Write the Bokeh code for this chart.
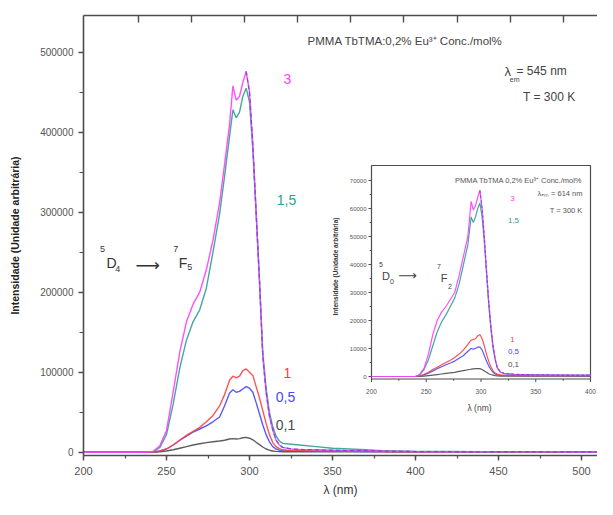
import math
from bokeh.plotting import figure
from bokeh.models import Range1d, LinearAxis, SingleIntervalTicker, FixedTicker, BasicTickFormatter
from bokeh.core.properties import value
from bokeh.embed import file_html
from bokeh.resources import INLINE

# ---------------- main spectra (lambda in nm) ----------------
WL = [200, 230, 238, 242, 246, 250, 254, 258, 262, 266, 270, 274, 278, 282, 285, 288, 290, 292, 294, 296,
      298, 300, 302, 304, 306, 308, 310, 312, 314, 316, 318, 320, 325, 330, 340, 350, 360, 370, 380, 390,
      400, 420, 440, 460, 480, 500, 515]
S_3 = [0, 0, 0, 1000, 8000, 27000, 75000, 125000, 163000, 185000, 200000, 228000, 265000, 312000, 360000,
       410000, 458000, 440000, 445000, 462000, 476000, 450000, 385000, 300000, 215000, 120000, 75000, 45000,
       28000, 15000, 9000, 6000, 4000, 3500, 3000, 2500, 2000, 2000, 1500, 1000, 800, 600, 500, 700, 500, 300, 300]
S_15 = [0, 0, 0, 800, 6000, 22000, 60000, 105000, 140000, 163000, 178000, 205000, 250000, 298000, 345000,
        395000, 428000, 418000, 425000, 445000, 455000, 438000, 378000, 298000, 215000, 125000, 80000, 50000,
        32000, 20000, 14000, 11000, 10000, 9000, 7000, 5000, 4000, 3000, 2000, 1500, 1000, 800, 600, 500, 500, 400, 300]
S_1 = [0, 0, 0, 300, 1500, 4000, 9000, 15000, 21000, 26000, 31000, 38000, 46000, 58000, 72000, 90000, 95000,
       93000, 95000, 102000, 104000, 100000, 96000, 82000, 68000, 52000, 36000, 22000, 12000, 7000, 4500, 3000,
       2000, 2000, 1500, 1500, 1000, 1000, 800, 600, 500, 400, 400, 300, 300, 300, 300]
S_05 = [0, 0, 0, 300, 1500, 4000, 9000, 15000, 20000, 25000, 29000, 33000, 38000, 44000, 58000, 74000, 78000,
        75000, 76000, 79000, 82000, 80000, 75000, 62000, 48000, 34000, 22000, 13000, 7000, 4000, 2500, 1500,
        1500, 1500, 1200, 1000, 1000, 800, 800, 600, 500, 500, 400, 400, 300, 300, 300]
S_01 = [0, 0, 0, 0, 500, 1500, 3000, 5000, 7000, 9000, 10500, 12000, 13000, 14000, 15000, 16500, 17000, 16500,
        17000, 18000, 18500, 17500, 15500, 12500, 9500, 6500, 4000, 2500, 1500, 1000, 700, 500, 500, 500, 500,
        500, 500, 500, 500, 500, 500, 500, 500, 500, 500, 500, 500]

# ---------------- inset spectra (lambda_em = 614 nm) ----------------
IWL = [200, 240, 244, 248, 252, 256, 260, 264, 268, 272, 276, 280, 284, 288, 291, 293, 295, 297, 299, 301,
       303, 305, 307, 309, 311, 313, 315, 318, 322, 330, 340, 350, 360, 370, 380, 390, 400]
I_3 = [0, 0, 800, 3000, 8000, 15000, 20000, 23000, 25000, 27500, 30000, 36000, 43000, 50000, 62500, 59500,
       61000, 64000, 66500, 60000, 50000, 38000, 27000, 18000, 11000, 6000, 3000, 1500, 1000, 800, 700, 600,
       600, 500, 500, 500, 500]
I_15 = [0, 0, 600, 2500, 6000, 11000, 16000, 19500, 22000, 25000, 28000, 33000, 40000, 47000, 57000, 55000,
        57000, 60000, 62000, 57000, 48000, 37000, 26000, 17000, 10000, 6000, 3000, 1500, 1000, 800, 700, 600,
        500, 500, 500, 400, 400]
I_1 = [0, 0, 200, 800, 1500, 2500, 3300, 4200, 5000, 5800, 6800, 8000, 9500, 11500, 13000, 13200, 13500,
       14500, 15000, 13500, 11000, 8000, 5500, 3500, 2000, 1200, 800, 500, 400, 300, 300, 300, 300, 300, 300,
       300, 300]
I_05 = [0, 0, 150, 600, 1200, 2000, 2800, 3500, 4200, 4800, 5500, 6500, 7500, 9000, 10000, 9800, 10000,
        10500, 10500, 9500, 7500, 5500, 3800, 2500, 1500, 900, 600, 400, 400, 400, 300, 300, 300, 300, 300,
        200, 200]
I_01 = [0, 0, 0, 100, 300, 500, 700, 900, 1100, 1300, 1500, 1800, 2100, 2400, 2600, 2700, 2800, 2800, 2800,
        2500, 2000, 1500, 1000, 700, 500, 300, 200, 100, 100, 100, 100, 100, 100, 100, 100, 100, 100]

SERIES_LABELS = ["3", "1,5", "1", "0,5", "0,1"]
TOP_TICKS = [233, 265, 297, 329, 361, 393, 425, 457, 489]
INSET_XTICKS = [200, 250, 300, 350, 400]
INSET_XMINOR = [225, 275, 325, 375]
INSET_YTICKS = [0, 10000, 20000, 30000, 40000, 50000, 60000, 70000]
INSET_YMINOR = [5000, 15000, 25000, 35000, 45000, 55000, 65000]

# ---------------- style ----------------
NARROW = "Liberation Sans"
SANS = "Liberation Sans"
ARROWF = "DejaVu Sans"
MAG, TEAL, RED, BLUE, BLK, PURP = "#ff3cff", "#2f9e94", "#ff4040", "#4646ff", "#4a4a4a", "#6a4bd6"
AX = "#4d4d4d"
COLORS = [MAG, TEAL, RED, BLUE, BLK]

# layout: main frame in canvas pixels, and inset calibration (pixel <-> inset data)
W, H = 597, 499
FL, FR, FT, FB = 83, 597, 15, 455
PX_PER_NM = 1.66
X0, X1 = 200, 200 + (FR - FL) / PX_PER_NM
Y0, Y1 = -4125, 545875
INSET_SHIFT = -3   # move the inset a little left so its last tick label stays inside


def lin(px, p0, v0, p1, v1):
    return v0 + (px - p0) * (v1 - v0) / (p1 - p0)


def ixp(px):
    return lin(px, 374, 200, 593, 400)


def iyp(py):
    return lin(py, 376, 0, 180, 70000)


p = figure(width=W, height=H, output_backend="svg", toolbar_location=None,
           x_range=Range1d(X0, X1), y_range=Range1d(Y0, Y1),
           x_axis_type=None, y_axis_type=None,
           min_border_left=FL, min_border_right=W - FR, min_border_top=FT, min_border_bottom=H - FB)
p.outline_line_color = None
p.background_fill_color = "white"
p.border_fill_color = "white"
p.extra_x_ranges = {"ix": Range1d(ixp(FL - INSET_SHIFT), ixp(FR - INSET_SHIFT))}
p.extra_y_ranges = {"iy": Range1d(iyp(FB), iyp(FT))}


def style_axis(ax):
    ax.axis_line_color = AX
    ax.axis_line_width = 1.6
    ax.major_tick_line_color = AX
    ax.major_tick_line_width = 1.4
    ax.minor_tick_line_color = AX
    ax.minor_tick_line_width = 1.2
    ax.major_label_text_color = "#555555"
    ax.major_label_text_font = NARROW


xa = LinearAxis(ticker=SingleIntervalTicker(interval=50, num_minor_ticks=2))
style_axis(xa)
xa.major_tick_out, xa.major_tick_in, xa.minor_tick_out, xa.minor_tick_in = 5, 0, 3, 0
xa.major_label_text_font_size = "11px"
xa.major_label_standoff = 6
xa.axis_label = "λ (nm)"
xa.axis_label_text_font = SANS
xa.axis_label_text_font_style = "normal"
xa.axis_label_text_font_size = "12px"
xa.axis_label_text_color = "#333333"
xa.axis_label_standoff = 5
p.add_layout(xa, "below")

ya = LinearAxis(ticker=SingleIntervalTicker(interval=100000, num_minor_ticks=2),
                formatter=BasicTickFormatter(use_scientific=False))
style_axis(ya)
ya.major_tick_out, ya.major_tick_in, ya.minor_tick_out, ya.minor_tick_in = 5, 0, 4, 0
ya.major_label_text_font_size = "10px"
ya.major_label_standoff = 5
ya.axis_label = "Intensidade (Unidade arbitrária)"
ya.axis_label_text_font = SANS
ya.axis_label_text_font_style = "bold"
ya.axis_label_text_font_size = "10.5px"
ya.axis_label_text_color = "#222222"
ya.axis_label_standoff = 16
p.add_layout(ya, "left")

ta = LinearAxis(ticker=FixedTicker(ticks=TOP_TICKS))
style_axis(ta)
ta.major_tick_out, ta.major_tick_in = 0, 7
ta.minor_tick_out, ta.minor_tick_in = 0, 0
ta.major_label_text_font_size = "0px"
ta.major_label_standoff = 0
ta.major_label_overrides = {t: "" for t in TOP_TICKS}
p.add_layout(ta, "above")

# ---------------- main curves ----------------
for ys, c in zip([S_01, S_05, S_1, S_15, S_3], [BLK, BLUE, RED, TEAL, MAG]):
    p.line(WL, ys, line_color=c, line_width=1.4, line_alpha=0.9)
desc_x = [w for w in WL if w >= 298]
desc_y = [v for w, v in zip(WL, S_3) if w >= 298]
p.line(desc_x, desc_y, line_color=PURP, line_width=1.3, line_dash="4 3", line_alpha=0.9)


def txt(x, y, s, size, color, font=NARROW, align="center", style="normal", angle=0.0, inset=False):
    kw = dict(x_range_name="ix", y_range_name="iy") if inset else {}
    p.text(x=[x], y=[y], text=[s], text_font=value(font), text_font_size=value(size),
           text_font_style=style, text_color=color, text_align=align, text_baseline="middle",
           angle=angle, **kw)


# main annotations
txt(335, 514500, "PMMA TbTMA:0,2% Eu³⁺ Conc./mol%", "11.5px", "#444444", align="left")
txt(453.6, 475900, "λ", "13px", "#444444", align="left")
txt(456.8, 465500, "em", "7px", "#444444", align="left")
txt(460.8, 475900, "= 545 nm", "12px", "#444444", align="left")
txt(464.8, 443400, "T = 300 K", "12px", "#444444", align="left")

lab_x = [322.9, 322.3, 322.9, 321.7, 321.7]
lab_y = [467000, 315600, 98400, 68400, 33400]
for lx, ly, s, c in zip(lab_x, lab_y, SERIES_LABELS, COLORS):
    txt(lx, ly, s, "14px", c)

txt(211.4, 254000, "5", "9px", "#333333")
txt(216.9, 237100, "D", "14px", "#333333")
txt(220.6, 229600, "4", "9px", "#333333")
txt(238.6, 234600, "⟶", "17px", "#333333", font=ARROWF)
txt(255.6, 253500, "7", "9px", "#333333")
txt(259.9, 235900, "F", "14px", "#333333")
txt(264.0, 230900, "5", "9px", "#333333")

# ---------------- inset ----------------
IB, IT = iyp(378.5), iyp(165)
p.quad(left=[200], right=[400], bottom=[IB], top=[IT], fill_color="white", fill_alpha=1.0,
       line_color=AX, line_width=1.2, x_range_name="ix", y_range_name="iy")

for ys, c in zip([I_01, I_05, I_1, I_15, I_3], [BLK, BLUE, RED, TEAL, MAG]):
    p.line(IWL, ys, line_color=c, line_width=1.2, line_alpha=0.9, x_range_name="ix", y_range_name="iy")
idesc_x = [w for w in IWL if w >= 299]
idesc_y = [v for w, v in zip(IWL, I_3) if w >= 299]
p.line(idesc_x, idesc_y, line_color=PURP, line_width=1.1, line_dash="3 2", line_alpha=0.9,
       x_range_name="ix", y_range_name="iy")

# inset ticks
tick_dx = 200 - ixp(371)
p.segment(x0=[200] * len(INSET_YTICKS), x1=[200 - tick_dx] * len(INSET_YTICKS), y0=INSET_YTICKS,
          y1=INSET_YTICKS, line_color=AX, line_width=1, x_range_name="ix", y_range_name="iy")
p.segment(x0=[200] * len(INSET_YMINOR), x1=[200 - tick_dx * 0.6] * len(INSET_YMINOR), y0=INSET_YMINOR,
          y1=INSET_YMINOR, line_color=AX, line_width=1, x_range_name="ix", y_range_name="iy")
tick_dy = IB - iyp(381.5)
p.segment(x0=INSET_XTICKS, x1=INSET_XTICKS, y0=[IB] * len(INSET_XTICKS), y1=[IB - tick_dy] * len(INSET_XTICKS),
          line_color=AX, line_width=1, x_range_name="ix", y_range_name="iy")
p.segment(x0=INSET_XMINOR, x1=INSET_XMINOR, y0=[IB] * len(INSET_XMINOR),
          y1=[IB - tick_dy * 0.6] * len(INSET_XMINOR),
          line_color=AX, line_width=1, x_range_name="ix", y_range_name="iy")
p.text(x=INSET_XTICKS, y=[iyp(391)] * len(INSET_XTICKS), text=[str(t) for t in INSET_XTICKS],
       text_font=value(NARROW), text_font_size=value("6.5px"), text_color="#555555", text_align="center",
       text_baseline="middle", x_range_name="ix", y_range_name="iy")
p.text(x=[ixp(369)] * len(INSET_YTICKS), y=INSET_YTICKS, text=[str(t) for t in INSET_YTICKS],
       text_font=value(NARROW), text_font_size=value("6px"), text_color="#555555", text_align="right",
       text_baseline="middle", x_range_name="ix", y_range_name="iy")

txt(ixp(482), iyp(407), "λ (nm)", "8.5px", "#444444", font=SANS, inset=True)
txt(ixp(338), iyp(266), "Intensidade (Unidade arbitrária)", "6.5px", "#333333", font=SANS,
    style="bold", angle=math.pi / 2, inset=True)
txt(ixp(585), iyp(180), "PMMA TbTMA 0,2% Eu³⁺ Conc./mol%", "7.5px", "#555555", font=SANS,
    align="right", inset=True)
txt(ixp(585), iyp(192.5), "λₑₘ = 614 nm", "7.5px", "#555555", font=SANS, align="right", inset=True)
txt(ixp(585), iyp(209.5), "T = 300 K", "7.5px", "#555555", font=SANS, align="right", inset=True)

ilab_x = [ixp(515), ixp(516), ixp(515), ixp(516), ixp(516)]
ilab_y = [iyp(198), iyp(220), iyp(339), iyp(351), iyp(364)]
for lx, ly, s, c in zip(ilab_x, ilab_y, SERIES_LABELS, COLORS):
    txt(lx, ly, s, "8px", c, font=SANS, inset=True)

txt(ixp(383.5), iyp(264), "5", "7px", "#444444", inset=True)
txt(ixp(388.5), iyp(275), "D", "11px", "#444444", inset=True)
txt(ixp(394.5), iyp(281), "0", "7px", "#444444", inset=True)
txt(ixp(410), iyp(275), "⟶", "13px", "#444444", font=ARROWF, inset=True)
txt(ixp(441.5), iyp(266), "7", "7px", "#444444", inset=True)
txt(ixp(446.5), iyp(277), "F", "11px", "#444444", inset=True)
txt(ixp(452.5), iyp(286), "2", "7px", "#444444", inset=True)

open("out.html", "w").write(file_html(p, INLINE))
